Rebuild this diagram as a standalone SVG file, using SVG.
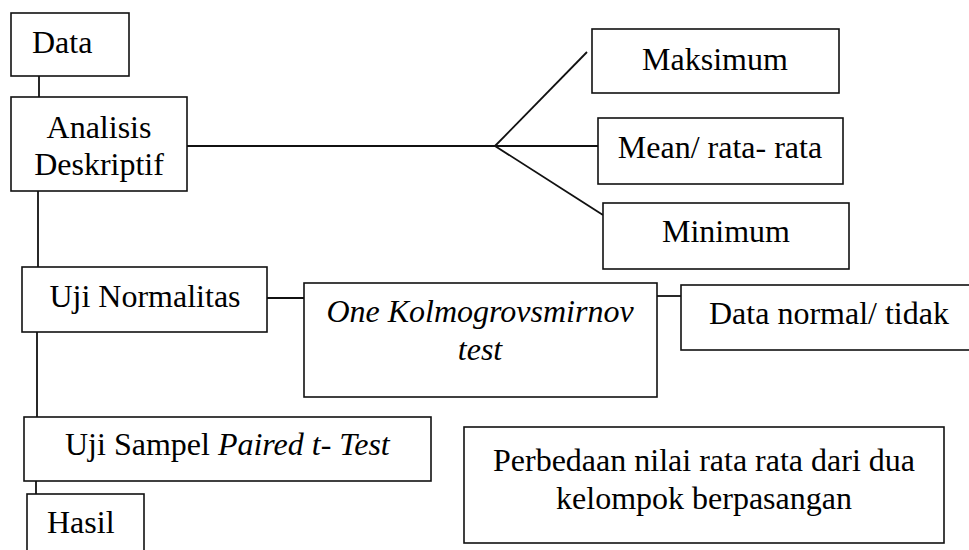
<svg xmlns="http://www.w3.org/2000/svg" width="969" height="550" viewBox="0 0 969 550">
<style>
.n rect { fill: #fff; stroke: #111; stroke-width: 1.6; }
.c line { stroke: #111; stroke-width: 1.8; fill: none; }
text { font-family: 'Liberation Serif', 'Tinos', 'Times New Roman', 'DejaVu Serif', serif; font-size: 32px; fill: #000; }
.m { text-anchor: middle; }
.i { font-style: italic; }
</style>
<g class="c" id="connectors">
  <line x1="39" y1="76" x2="39" y2="97"/>
  <line x1="187" y1="146" x2="495" y2="146"/>
  <line x1="495" y1="146" x2="587" y2="52"/>
  <line x1="495" y1="146" x2="598" y2="146"/>
  <line x1="495" y1="146" x2="603" y2="215"/>
  <line x1="38" y1="191" x2="38" y2="267"/>
  <line x1="267" y1="298" x2="304" y2="298"/>
  <line x1="657" y1="296" x2="681" y2="296"/>
  <line x1="37" y1="332" x2="37" y2="417"/>
  <line x1="36" y1="481" x2="36" y2="494"/>
</g>
<g class="n" id="data"><rect x="11" y="13" width="118" height="63"/><text x="32" y="53">Data</text></g>
<g class="n" id="analisis"><rect x="11" y="97" width="176" height="94"/><text class="m" x="99" y="138">Analisis</text><text class="m" x="99" y="175">Deskriptif</text></g>
<g class="n" id="maksimum"><rect x="592" y="29" width="247" height="64"/><text class="m" x="715" y="70">Maksimum</text></g>
<g class="n" id="mean"><rect x="598" y="118" width="245" height="66"/><text class="m" x="720" y="158">Mean/ rata- rata</text></g>
<g class="n" id="minimum"><rect x="603" y="203" width="246" height="66"/><text class="m" x="726" y="242">Minimum</text></g>
<g class="n" id="normalitas"><rect x="22" y="267" width="245" height="65"/><text class="m" x="145" y="307">Uji Normalitas</text></g>
<g class="n" id="kolmogorov"><rect x="304" y="283" width="353" height="114"/><text class="m i" x="480" y="322">One Kolmogrovsmirnov</text><text class="m i" x="480" y="360">test</text></g>
<g class="n" id="normal"><rect x="681" y="285" width="300" height="65"/><text x="709" y="324">Data normal/ tidak</text></g>
<g class="n" id="paired"><rect x="24" y="417" width="407" height="64"/><text x="65" y="455">Uji Sampel <tspan class="i">Paired t- Test</tspan></text></g>
<g class="n" id="hasil"><rect x="27" y="494" width="117" height="70"/><text x="47" y="533">Hasil</text></g>
<g class="n" id="perbedaan"><rect x="464" y="427" width="480" height="116"/><text class="m" x="704" y="471">Perbedaan nilai rata rata dari dua</text><text class="m" x="704" y="509">kelompok berpasangan</text></g>
</svg>
